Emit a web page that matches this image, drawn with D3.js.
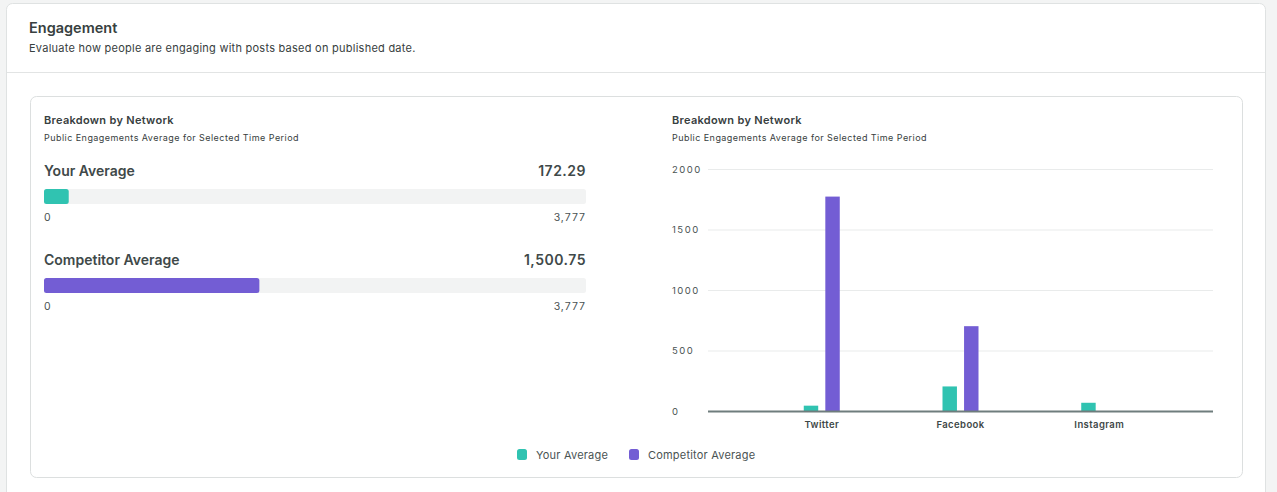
<!DOCTYPE html>
<html><head><meta charset="utf-8">
<script src="https://cdn.jsdelivr.net/npm/d3@7"></script>
<style>
html,body{margin:0;padding:0;background:#f3f4f4;}
svg{display:block;font-family:Inter,Roboto,sans-serif;}
</style></head>
<body><svg id="c" width="1277" height="492"></svg>
<script>
const categories = ["Twitter", "Facebook", "Instagram"];
const seriesNames = ["Your Average", "Competitor Average"];
const yourValues = [44, 203, 68];
const competitorValues = [1772, 701, 0];
const yTicks = [0, 500, 1000, 1500, 2000];
const summaryValues = [172.29, 1500.75];
const summaryMax = 3777;
const colors = ["#30c3b1", "#735dd4"];

const svg = d3.select("#c");
const textDark = "#374040";

// outer card
svg.append("rect").attr("x",6.5).attr("y",3.5).attr("width",1259).attr("height",520)
  .attr("rx",6).attr("fill","#fff").attr("stroke","#dfe2e2");
svg.append("line").attr("x1",7).attr("x2",1265).attr("y1",72.5).attr("y2",72.5).attr("stroke","#e2e4e4");
svg.append("text").attr("x",29).attr("y",33).text("Engagement")
  .attr("font-size",14.5).attr("font-weight",600).attr("fill",textDark);
svg.append("text").attr("x",29).attr("y",52).text("Evaluate how people are engaging with posts based on published date.")
  .attr("font-size",11).attr("fill",textDark).attr("letter-spacing","0.25px");

// inner card
svg.append("rect").attr("x",30.5).attr("y",96.5).attr("width",1212).attr("height",381)
  .attr("rx",6).attr("fill","#fff").attr("stroke","#dcdfdf");

function titles(x){
  svg.append("text").attr("x",x).attr("y",124).text("Breakdown by Network")
    .attr("font-size",11).attr("font-weight",600).attr("fill",textDark).attr("letter-spacing","0.3px");
  svg.append("text").attr("x",x).attr("y",141).text("Public Engagements Average for Selected Time Period")
    .attr("font-size",9).attr("fill",textDark).attr("letter-spacing","0.45px");
}
titles(44);
titles(672);

const xs = d3.scaleLinear().domain([0, summaryMax]).range([44, 586]);
const fmt = d3.format(",.2f");
const rowsY = [171, 260];
seriesNames.forEach((name, i) => {
  const y0 = rowsY[i];
  svg.append("text").attr("x",44).attr("y",y0+5).text(name)
    .attr("font-size",14).attr("font-weight",600).attr("fill","#404949");
  svg.append("text").attr("x",586).attr("y",y0+5).attr("text-anchor","end").text(fmt(summaryValues[i]))
    .attr("font-size",14).attr("font-weight",600).attr("fill","#404949").attr("letter-spacing","0.5px");
  svg.append("rect").attr("x",xs(0)).attr("y",y0+18).attr("width",xs(summaryMax)-xs(0)).attr("height",15)
    .attr("rx",2.5).attr("fill","#f2f3f3");
  svg.append("rect").attr("x",xs(0)).attr("y",y0+18).attr("width",xs(summaryValues[i])-xs(0)).attr("height",15)
    .attr("rx",2.5).attr("fill",colors[i]);
  svg.append("text").attr("x",44).attr("y",y0+50).text("0").attr("font-size",10.5).attr("fill","#4a5353");
  svg.append("text").attr("x",586).attr("y",y0+50).attr("text-anchor","end").text(d3.format(",")(summaryMax))
    .attr("font-size",10.5).attr("fill","#4a5353").attr("letter-spacing","1px");
});

// right chart
const plotL = 708, plotR = 1213;
const y = d3.scaleLinear().domain([0, 2000]).range([411, 169]);
const x0 = d3.scaleBand().domain(categories).range([plotL, plotR]).paddingOuter(0.32).paddingInner(0);
const x1 = d3.scaleBand().domain(seriesNames).range([-18, 18]).paddingInner(0.33);

const yAxis = d3.axisLeft(y).tickValues(yTicks).tickFormat(d3.format("d")).tickSize(-(plotR-plotL)).tickPadding(0);
const gy = svg.append("g").attr("transform",`translate(${plotL},0)`).call(yAxis);
gy.select(".domain").remove();
gy.selectAll(".tick line").attr("stroke","#e9ebeb");
gy.selectAll(".tick text").attr("x",672-plotL).attr("text-anchor","start")
  .attr("font-size",9.5).attr("letter-spacing","1.5px").attr("fill","#4a5353").attr("font-family","Inter,sans-serif");

const data = categories.map((c, i) => ({cat: c, vals: [yourValues[i], competitorValues[i]]}));
const groups = svg.append("g").selectAll("g").data(data).join("g")
  .attr("transform", d => `translate(${x0(d.cat) + x0.bandwidth()/2},0)`);
groups.selectAll("rect").data(d => d.vals.map((v, j) => ({name: seriesNames[j], v, j}))).join("rect")
  .attr("x", d => x1(d.name)).attr("width", x1.bandwidth())
  .attr("y", d => y(d.v)).attr("height", d => y(0) - y(d.v))
  .attr("fill", d => colors[d.j]);

const xAxis = d3.axisBottom(x0).tickSize(0).tickPadding(10);
const gx = svg.append("g").attr("transform",`translate(0,${y(0)})`).call(xAxis);
gx.select(".domain").remove();
gx.selectAll(".tick text").attr("font-size",9.5).attr("font-weight",600).attr("fill","#3e4747")
  .attr("font-family","Inter,sans-serif").attr("letter-spacing","0.4px");
svg.append("line").attr("x1",plotL).attr("x2",plotR).attr("y1",y(0)+0.5).attr("y2",y(0)+0.5)
  .attr("stroke","#6f7d7d").attr("stroke-width",2);

// legend
const legendX = [517, 629];
seriesNames.forEach((n, i) => {
  svg.append("rect").attr("x",legendX[i]).attr("y",449).attr("width",10).attr("height",11).attr("rx",2.5).attr("fill",colors[i]);
  svg.append("text").attr("x",legendX[i]+19).attr("y",459).text(n).attr("font-size",11).attr("fill","#4a5353").attr("letter-spacing","0.2px");
});
</script></body></html>
